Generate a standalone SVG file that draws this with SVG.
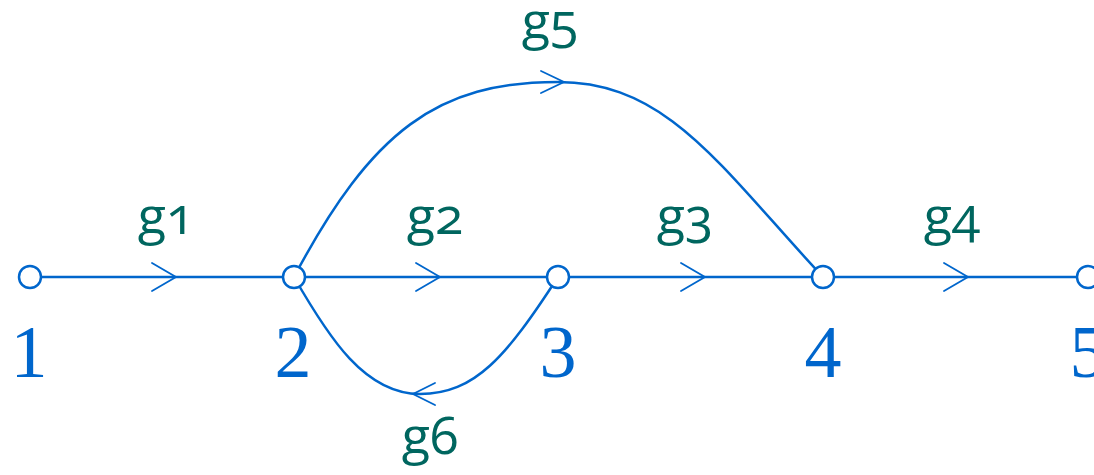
<svg xmlns="http://www.w3.org/2000/svg" width="1094" height="475" viewBox="0 0 1094 475">
<style>
.edge{fill:none;stroke:#0066cc;stroke-width:2.5}
.head{fill:none;stroke:#0066cc;stroke-width:1.8;stroke-linecap:round;stroke-linejoin:miter}
.node{fill:#ffffff;stroke:#0066cc;stroke-width:2.5}
.num{font-family:"Liberation Serif","DejaVu Serif",serif;font-size:74px;fill:#0066cc;text-anchor:middle}
.lbl{font-family:"Open Sans","Noto Sans",sans-serif;font-size:52px;fill:#00665f;text-anchor:middle;font-variant-numeric:oldstyle-nums;font-feature-settings:"onum" 1}
</style>
<g id="connectors">
  <path class="edge" d="M30,277 H1088"/>
  <path class="edge" d="M294,277 C372,130 438,82 558,82 C668,82 720.7,167.3 823,277"/>
  <path class="edge" d="M294,277 C329,338 365,394 420,394 C475,394 506,357 558,277"/>
  <polyline class="head" points="152,263 176,277 152,291"/>
  <polyline class="head" points="416,263 440,277 416,291"/>
  <polyline class="head" points="681,263 705,277 681,291"/>
  <polyline class="head" points="944,263 968,277 944,291"/>
  <polyline class="head" points="541,71 564,82 541,93"/>
  <polyline class="head" points="435,383 413,394 435,405"/>
</g>
<g id="labels">
  <text class="lbl" x="166" y="234">g1</text>
  <text class="lbl" x="435" y="234">g2</text>
  <text class="lbl" x="685" y="234">g3</text>
  <text class="lbl" x="952" y="234">g4</text>
  <text class="lbl" x="550" y="39">g5</text>
  <text class="lbl" x="430" y="454">g6</text>
</g>
<g id="node1"><circle class="node" cx="30" cy="277" r="11"/><text class="num" x="29" y="377">1</text></g>
<g id="node2"><circle class="node" cx="294" cy="277" r="11"/><text class="num" x="293" y="377">2</text></g>
<g id="node3"><circle class="node" cx="558" cy="277" r="11"/><text class="num" x="558" y="377">3</text></g>
<g id="node4"><circle class="node" cx="823" cy="277" r="11"/><text class="num" x="823" y="377">4</text></g>
<g id="node5"><circle class="node" cx="1088" cy="277" r="11"/><text class="num" x="1088" y="377">5</text></g>
</svg>
